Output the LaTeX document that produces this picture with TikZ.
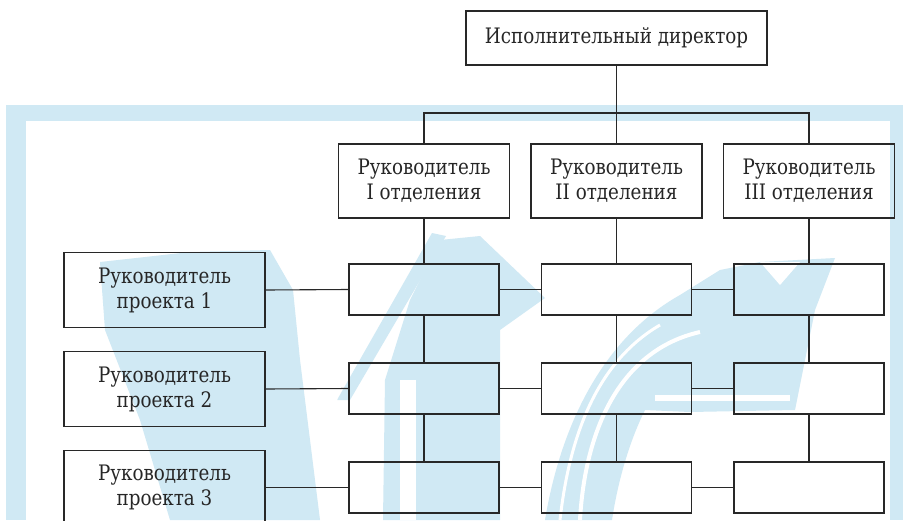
\documentclass[tikz,border=0pt]{standalone}
\usepackage{fontspec}
\setmainfont{DejaVu Serif}[FakeStretch=0.86]
\definecolor{wm}{RGB}{208,233,244}
\definecolor{ln}{RGB}{40,40,40}
\begin{document}
\begin{tikzpicture}[x=1pt,y=-1pt,
  box/.style={draw=ln,line width=1.1pt,rectangle,inner sep=0pt,align=center,
     font=\fontsize{21.3}{25}\selectfont,text=black!85},
  topbox/.style={box,minimum width=301pt,minimum height=54pt},
  deptbox/.style={box,minimum width=171pt,minimum height=74pt},
  cellbox/.style={box,minimum width=150pt,minimum height=51pt},
  projbox/.style={box,minimum width=201pt,minimum height=74.5pt},
  conn/.style={draw=ln,line width=1.1pt},
  wmw/.style={fill=white,draw=none}]
\useasboundingbox (0,0) rectangle (903,520);
\fill[white] (0,0) rectangle (903,520);
% watermark frame
\fill[wm] (6,105) rectangle (903,520);
\fill[white] (26,121) rectangle (890,520);
% watermark logo: left V
\fill[wm] (100,262) -- (190,252) -- (270,250) -- (293,290) -- (300,360) -- (320,520) -- (170,520) -- (140,420) -- (105,330) -- cycle;
\fill[wm] (383,520) -- (385,380) -- (410,300) -- (440,240) -- (480,236) -- (545,298) -- (500,330) -- (500,520) -- cycle;
\fill[wm] (432,233) -- (446,236) -- (350,400) -- (337,400) -- cycle;
\fill[wmw] (400,380) rectangle (416,520);
\fill[wmw] (300,330) -- (330,330) -- (350,520) -- (335,520) -- cycle;
% watermark logo: right swoosh
\fill[wm] (545,520) .. controls (560,430) and (600,340) .. (680,295)
  -- (720,270) -- (760,262) -- (835,258) -- (815,310) -- (805,360) -- (795,410)
  -- (690,412) -- (645,410) .. controls (630,440) and (618,480) .. (612,520) -- cycle;
\draw[white,line width=4pt] (580,520) .. controls (585,430) and (620,350) .. (700,332);
\draw[white,line width=3pt] (560,520) .. controls (570,430) and (600,360) .. (660,325);
\draw[white,line width=6pt] (655,398) -- (790,398);
\fill[white] (760,262) -- (780,285) -- (800,262) -- cycle;
% nodes
\node[topbox] (dir) at (616.5,38) {Исполнительный директор};
\node[deptbox] (d1) at (424,181) {Руководитель\\I отделения};
\node[deptbox] (d2) at (616.5,181) {Руководитель\\II отделения};
\node[deptbox] (d3) at (809,181) {Руководитель\\III отделения};
\node[projbox] (p1) at (164.5,290) {Руководитель\\проекта 1};
\node[projbox] (p2) at (164.5,389) {Руководитель\\проекта 2};
\node[projbox] (p3) at (164.5,487.5) {Руководитель\\проекта 3};
\foreach \r/\y in {1/289.5,2/388.5,3/487.5}{
  \node[cellbox] (g\r1) at (424,\y) {};
  \node[cellbox] (g\r2) at (616.5,\y) {};
  \node[cellbox] (g\r3) at (809,\y) {};
}
\coordinate (bus) at (616.5,113);
% connectors
\draw[conn] (dir.south) -- (bus);
\draw[conn] (d1.north) -- (d1.north |- bus) -- (d3.north |- bus) -- (d3.north);
\draw[conn] (d2.north) -- (bus);
\foreach \c in {1,2,3}{
  \draw[conn] (d\c.south) -- (g1\c.north);
  \draw[conn] (g1\c.south) -- (g2\c.north);
  \draw[conn] (g2\c.south) -- (g3\c.north);
}
\foreach \r in {1,2,3}{
  \draw[conn] (p\r.east) -- (g\r1.west);
  \draw[conn] (g\r1.east) -- (g\r2.west);
  \draw[conn] (g\r2.east) -- (g\r3.west);
}
\end{tikzpicture}
\end{document}
